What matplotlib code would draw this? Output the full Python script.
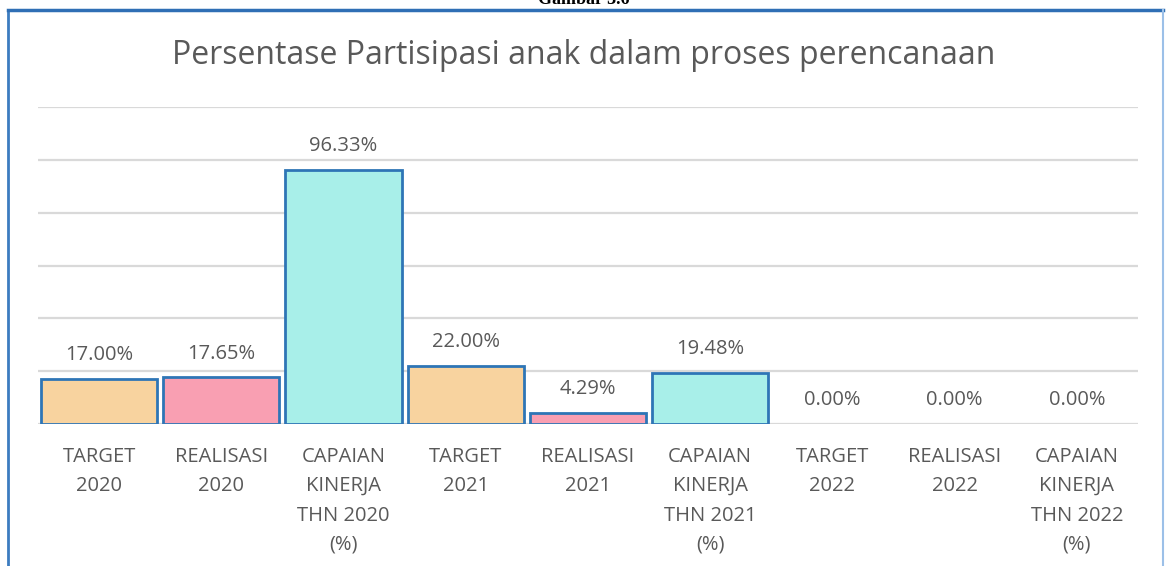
import matplotlib
matplotlib.use("Agg")
import matplotlib.pyplot as plt
from matplotlib.lines import Line2D
import numpy as np

# data
categories = [
    "TARGET\n2020", "REALISASI\n2020", "CAPAIAN\nKINERJA\nTHN 2020\n(%)",
    "TARGET\n2021", "REALISASI\n2021", "CAPAIAN\nKINERJA\nTHN 2021\n(%)",
    "TARGET\n2022", "REALISASI\n2022", "CAPAIAN\nKINERJA\nTHN 2022\n(%)",
]
values = [17.00, 17.65, 96.33, 22.00, 4.29, 19.48, 0.00, 0.00, 0.00]
kinds = ["target", "realisasi", "capaian"] * 3

COLORS = {"target": "#F8D39F", "realisasi": "#F99FB2", "capaian": "#A8EFE9"}
EDGE = "#2E75B6"
GREY = "#595959"

plt.rcParams["font.family"] = ["Open Sans", "DejaVu Sans"]

W, H = 1167, 566
fig = plt.figure(figsize=(W / 100, H / 100), dpi=100)
ax = fig.add_axes([38 / W, 1 - 424 / H, (1138 - 38) / W, (424 - 107) / H])

x = np.arange(len(values))
for xi, v, k in zip(x, values, kinds):
    ax.bar(xi, v, width=0.95, color=COLORS[k],
           edgecolor=EDGE if v > 0 else "none", linewidth=2, zorder=3)
    ax.annotate(f"{v:.2f}%", (xi, v), xytext=(0, 17), textcoords="offset points",
                ha="center", va="center", fontsize=14.5, color=GREY)

ax.set_xlim(-0.5, len(values) - 0.5)
ax.set_ylim(0, 120)
ax.set_yticks(np.arange(0, 121, 20))
ax.yaxis.grid(True, color="#D9D9D9", lw=1.6, zorder=0)
ax.tick_params(axis="y", left=False, labelleft=False)
ax.tick_params(axis="x", bottom=False, pad=13)
ax.set_xticks(x)
ax.set_xticklabels(categories, fontsize=14.5, color=GREY, linespacing=1.62, va="top")
for s in ax.spines.values():
    s.set_visible(False)
ax.axhline(0, color="#D9D9D9", lw=2, zorder=2)

fig.text(0.5, 1 - 56 / H, "Persentase Partisipasi anak dalam proses perencanaan",
         ha="center", va="center", fontsize=23, color=GREY)

# frame of the screenshot
fig.add_artist(Line2D([8 / W, 8 / W], [0, 1 - 10 / H], transform=fig.transFigure,
                      color="#3C7CC0", lw=2))
fig.add_artist(Line2D([8 / W, 1163 / W], [1 - 10 / H, 1 - 10 / H], transform=fig.transFigure,
                      color="#2F6FB5", lw=2.5))
fig.add_artist(Line2D([1163 / W, 1163 / W], [0, 1 - 10 / H], transform=fig.transFigure,
                      color="#9CC0E8", lw=1.5))
fig.text(0.5, 1 - 4 / H, "Gambar 3.6", ha="center", va="baseline",
         fontsize=13, fontweight="bold", family="Liberation Serif", color="black")

fig.savefig("out.png", dpi=100)
